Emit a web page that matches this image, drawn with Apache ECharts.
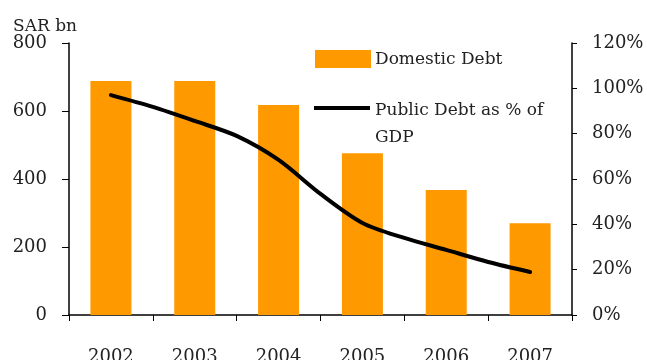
<!DOCTYPE html>
<html>
<head>
<meta charset="utf-8">
<script src="https://cdn.jsdelivr.net/npm/echarts@6/dist/echarts.min.js"></script>
<style>
html,body{margin:0;padding:0;background:#fff;}
#main{width:647px;height:360px;}
</style>
</head>
<body>
<div id="main"></div>
<script>
var years = ['2002','2003','2004','2005','2006','2007'];
var domesticDebt = [688, 688, 618, 476, 368, 270];
// public debt as % of GDP, read at half-year steps
var debtYears = [2002, 2002.5, 2003, 2003.5, 2004, 2004.5, 2005, 2005.5, 2006, 2006.5, 2007];
var debtPct = [97, 91.8, 85.6, 79, 68.4, 53.4, 40.6, 34, 28.7, 23.4, 19];
var leftTicks = [0, 800, 200];
var rightTicks = [0, 120, 20];

var linePts = [];
for (var i = 0; i < debtYears.length; i++) {
	linePts.push([debtYears[i], debtPct[i]]);
}

var font = 'DejaVu Serif';
var myChart = echarts.init(document.getElementById('main'));
var option = {
	animation: false,
	textStyle: {fontFamily: font},
	grid: {left: 69, right: 75, top: 43, bottom: 45, containLabel: false, outerBoundsMode: 'none'},
	xAxis: [{
		type: 'category',
		data: years,
		axisLine: {lineStyle: {color: '#000', width: 1.5}},
		axisTick: {show: true, length: 6, lineStyle: {color: '#000'}},
		axisLabel: {color: '#222', fontSize: 18, fontFamily: font, margin: 33}
	}, {
		type: 'value',
		min: 2001.5,
		max: 2007.5,
		show: false
	}],
	yAxis: [{
		type: 'value',
		min: leftTicks[0], max: leftTicks[1], interval: leftTicks[2],
		splitLine: {show: false},
		axisLine: {show: true, lineStyle: {color: '#000', width: 1.5}},
		axisTick: {show: true, length: 7, lineStyle: {color: '#000'}},
		axisLabel: {color: '#222', fontSize: 18, fontFamily: font, margin: 22}
	}, {
		type: 'value',
		min: rightTicks[0], max: rightTicks[1], interval: rightTicks[2],
		position: 'right',
		splitLine: {show: false},
		axisLine: {show: true, lineStyle: {color: '#000', width: 1.5}},
		axisTick: {show: true, length: 5, lineStyle: {color: '#000'}},
		axisLabel: {color: '#222', fontSize: 18, fontFamily: font, margin: 20, formatter: '{value}%'}
	}],
	graphic: [
		{type: 'text', left: 13, top: 18, style: {text: 'SAR bn', fill: '#222', font: '17px "DejaVu Serif"'}},
		{type: 'rect', shape: {x: 315, y: 50, width: 56, height: 18}, style: {fill: '#FF9900'}},
		{type: 'text', left: 375, top: 51, style: {text: 'Domestic Debt', fill: '#222', font: '17px "DejaVu Serif"'}},
		{type: 'line', shape: {x1: 314, y1: 108, x2: 370, y2: 108}, style: {stroke: '#000', lineWidth: 4}},
		{type: 'text', left: 375, top: 97, style: {text: 'Public Debt as % of\nGDP', fill: '#222', font: '17px "DejaVu Serif"', lineHeight: 27}}
	],
	series: [{
		name: 'Domestic Debt',
		type: 'bar',
		data: domesticDebt,
		barWidth: 41,
		itemStyle: {color: '#FF9900'}
	}, {
		name: 'Public Debt as % of GDP',
		type: 'line',
		xAxisIndex: 1,
		yAxisIndex: 1,
		data: linePts,
		smooth: 0.3,
		symbol: 'none',
		lineStyle: {color: '#000', width: 4, cap: 'round'}
	}]
};
myChart.setOption(option);
</script>
</body>
</html>
